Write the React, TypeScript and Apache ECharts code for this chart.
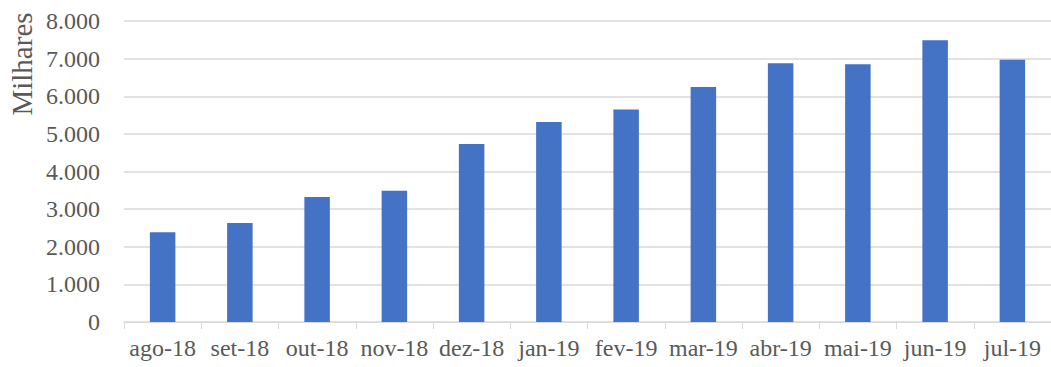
import React, { useEffect, useRef } from "react";
import * as echarts from "echarts";

const categories = ["ago-18", "set-18", "out-18", "nov-18", "dez-18", "jan-19", "fev-19", "mar-19", "abr-19", "mai-19", "jun-19", "jul-19"];
const values = [2385, 2630, 3320, 3490, 4730, 5315, 5650, 6245, 6880, 6850, 7490, 6970];
const yAxisName = "Milhares";

const fmt = (v: number) => {
  if (v === 0) return "0";
  const s = String(Math.round(v));
  return s.replace(/\B(?=(\d{3})+(?!\d))/g, ".");
};

export default function App() {
  const ref = useRef<HTMLDivElement>(null);
  useEffect(() => {
    if (!ref.current) return;
    const chart = echarts.init(ref.current, null, { renderer: "svg" });
    const font = "'Liberation Serif', 'Times New Roman', serif";
    chart.setOption({
      animation: false,
      backgroundColor: "#ffffff",
      textStyle: { fontFamily: font },
      grid: { left: 124, right: -6, top: 21, bottom: 45, containLabel: false },
      xAxis: {
        type: "category",
        data: categories,
        axisLine: { show: true, lineStyle: { color: "#d9d9d9", width: 1 } },
        axisTick: { show: true, interval: 0, length: 7, lineStyle: { color: "#d9d9d9" } },
        axisLabel: { color: "#595959", fontSize: 24, fontFamily: font, margin: 14, interval: 0, hideOverlap: false },
      },
      yAxis: {
        type: "value",
        min: 0,
        max: 8000,
        interval: 1000,
        axisLine: { show: false },
        axisTick: { show: false },
        axisLabel: { color: "#595959", fontSize: 24, fontFamily: font, margin: 24, formatter: fmt },
        splitLine: { lineStyle: { color: "#d9d9d9", width: 1.5 } },
      },
      graphic: [
        {
          type: "text",
          x: 22,
          y: 64,
          rotation: Math.PI / 2,
          style: {
            text: yAxisName,
            fill: "#595959",
            font: `29px ${font}`,
            align: "center",
            verticalAlign: "middle",
          },
        },
      ],
      series: [
        {
          type: "bar",
          data: values,
          barWidth: "33%",
          itemStyle: { color: "#4472C4" },
        },
      ],
    });
    return () => chart.dispose();
  }, []);
  return <div ref={ref} style={{ position: "fixed", left: 0, top: 0, width: 1051, height: 367 }} />;
}
